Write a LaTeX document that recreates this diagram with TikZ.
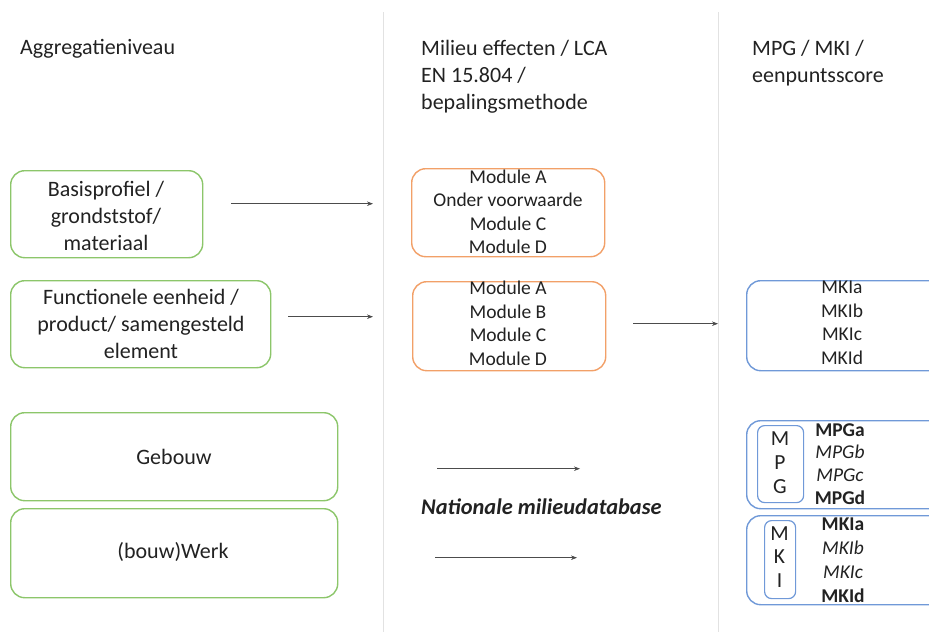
\documentclass[tikz,border=0pt]{standalone}
\usepackage{fontspec}
\setmainfont{Carlito}
\usetikzlibrary{arrows.meta}
\definecolor{gframe}{HTML}{8CC66A}
\definecolor{oframe}{HTML}{F2A068}
\definecolor{bframe}{HTML}{7099D8}
\definecolor{ink}{HTML}{222222}
\definecolor{sep}{HTML}{E2E2E2}
\begin{document}
\begin{tikzpicture}[x=1pt,y=-1pt,
  frame/.style={draw, line width=1.4pt, rounded corners=14pt, inner sep=0pt, anchor=north west},
  greenframe/.style={frame, draw=gframe},
  orangeframe/.style={frame, draw=oframe},
  blueframe/.style={frame, draw=bframe},
  innerframe/.style={frame, draw=bframe, line width=1.2pt, rounded corners=7pt},
  bigtext/.style={font=\fontsize{22}{27}\selectfont, text=ink, align=center, inner sep=0pt},
  smalltext/.style={font=\fontsize{19.5}{23.5}\selectfont, text=ink, align=center, inner sep=0pt},
  headtext/.style={font=\fontsize{22}{27}\selectfont, text=ink, align=left, inner sep=0pt, anchor=west},
  arr/.style={draw=black!70, line width=0.6pt, -{Stealth[length=6pt,width=4.5pt]}}
]
\clip (0,0) rectangle (929,632);
\fill[white] (0,0) rectangle (929,632);

% column separators
\draw[sep, line width=0.9pt] (383,12) -- (383,632);
\draw[sep, line width=0.9pt] (718,12) -- (718,632);

% column headings
\node[headtext] (h1) at (20,49) {Aggregatieniveau};
\node[headtext] (h2) at (421,77) {Milieu effecten / LCA\\EN 15.804 /\\bepalingsmethode};
\node[headtext] (h3) at (752,63.5) {MPG / MKI /\\eenpuntsscore};

% aggregation levels
\node[greenframe, minimum width=192pt, minimum height=87pt] (b1) at (10,170) {};
\node[bigtext] (t1) at (106,216) {Basisprofiel /\\grondststof/\\materiaal};
\node[greenframe, minimum width=260pt, minimum height=87pt] (b2) at (10,280) {};
\node[bigtext] (t2) at (141,323.5) {Functionele eenheid /\\product/ samengesteld\\element};
\node[greenframe, minimum width=327pt, minimum height=88pt] (b3) at (10,412) {};
\node[bigtext] (t3) at (174,457) {Gebouw};
\node[greenframe, minimum width=327pt, minimum height=89pt] (b4) at (10,508) {};
\node[bigtext] (t4) at (173,552) {(bouw)Werk};

% LCA modules
\node[orangeframe, minimum width=193pt, minimum height=88pt] (o1) at (411,168) {};
\node[smalltext] (u1) at (508,212) {Module A\\Onder voorwaarde\\Module C\\Module D};
\node[orangeframe, minimum width=193pt, minimum height=89pt] (o2) at (412,281) {};
\node[smalltext] (u2) at (508,323.5) {Module A\\Module B\\Module C\\Module D};

\node[font=\fontsize{22.4}{26}\selectfont\bfseries\itshape, text=ink, inner sep=0pt, anchor=west] (db) at (421,507) {Nationale milieudatabase};

% scores
\node[blueframe, minimum width=199pt, minimum height=90pt] (k1) at (746,280) {};
\node[smalltext] (v1) at (842,323) {MKIa\\MKIb\\MKIc\\MKId};

\node[blueframe, minimum width=199pt, minimum height=88pt] (p) at (746,420) {};
\node[innerframe, minimum width=46pt, minimum height=77pt] (pi) at (757,425) {};
\node[smalltext, font=\fontsize{21.5}{24}\selectfont] (pl) at (780,463) {M\\P\\G};
\node[smalltext, font=\fontsize{19.5}{22.7}\selectfont] (pv) at (840,464)
  {\textbf{MPGa}\\\textit{MPGb}\\\textit{MPGc}\\\textbf{MPGd}};

\node[blueframe, minimum width=199pt, minimum height=89pt] (q) at (746,515) {};
\node[innerframe, minimum width=31pt, minimum height=78pt] (qi) at (764,520) {};
\node[smalltext, font=\fontsize{21.5}{23.5}\selectfont] (ql) at (779.5,557) {M\\K\\I};
\node[smalltext, font=\fontsize{19.5}{24}\selectfont] (qv) at (843,560)
  {\textbf{MKIa}\\\textit{MKIb}\\\textit{MKIc}\\\textbf{MKId}};

% connectors
\draw[arr] ([shift={(28,-10.5)}]b1.east) -- ([shift={(-38,-9)}]o1.west);
\draw[arr] ([shift={(17,-7.5)}]b2.east) -- ([shift={(-39,-9.5)}]o2.west);
\draw[arr] ([shift={(27,-2.5)}]o2.east) -- ([shift={(-28,-2)}]k1.west);
\draw[arr] ([shift={(99,12)}]b3.east) -- ([shift={(-166,4)}]p.west);
\draw[arr] ([shift={(97,4.5)}]b4.east) -- ([shift={(-169,-2.5)}]q.west);
\end{tikzpicture}
\end{document}
